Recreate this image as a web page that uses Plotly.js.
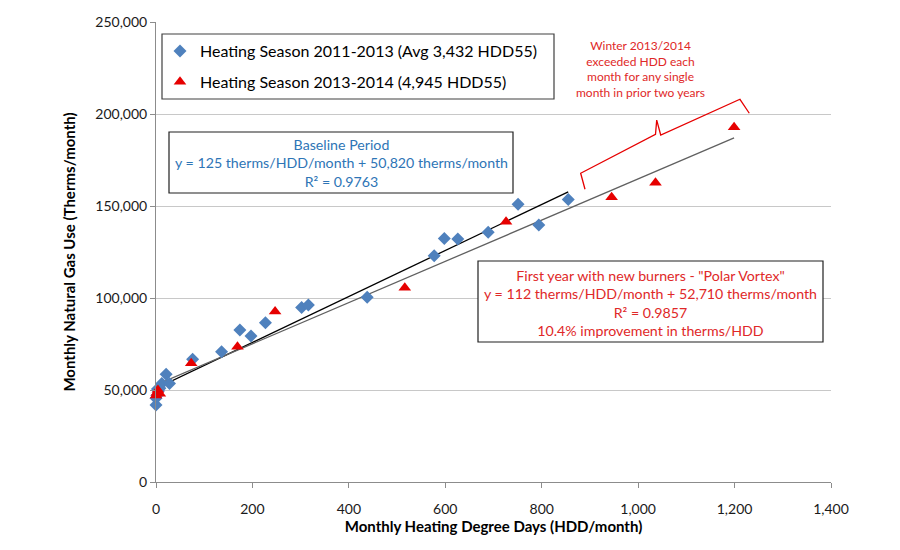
<!DOCTYPE html>
<html>
<head>
<meta charset="utf-8">
<script src="https://cdn.plot.ly/plotly-3.0.1.min.js"></script>
<style>html,body{margin:0;padding:0;background:#fff;}#chart{width:900px;height:550px;}</style>
</head>
<body>
<div id="chart"></div>
<script>
// Heating Season 2011-2013 (monthly HDD, therms/month)
const hdd2011 = [0, 0, 2, 3, 5, 8, 12, 21, 28, 76, 136, 174, 197, 227, 302, 316, 438, 577, 598, 626, 689, 751, 794, 855];
const gas2011 = [41800, 45500, 47000, 50500, 49500, 51000, 53600, 58500, 53600, 66700, 70800, 82600, 79300, 86600, 94900, 96200, 100400, 123000, 132400, 132100, 135700, 150900, 139700, 153600];
// Heating Season 2013-2014
const hdd2013 = [0, 2, 4, 8, 73, 169, 247, 516, 726, 945, 1036, 1199];
const gas2013 = [47000, 48500, 50000, 48000, 64500, 73500, 92600, 105600, 141500, 154700, 162700, 192800];
// Trend lines (from fitted equations shown in the chart)
const baseTrendX = [0, 855];
const baseTrendY = [50820, 157695];
const newTrendX = [0, 1199];
const newTrendY = [52710, 187000];
const xTicks = [0, 200, 400, 600, 800, 1000, 1200, 1400];
const xTickText = ['0', '200', '400', '600', '800', '1,000', '1,200', '1,400'];
const yTicks = [0, 50000, 100000, 150000, 200000, 250000];
const yTickText = ['0', '50,000', '100,000', '150,000', '200,000', '250,000'];

const FONT = 'Lato, "Open Sans", sans-serif';
const BLUE = '#4F81BD';
const RED = '#E60000';
const TXTRED = '#E02828';
const TXTBLUE = '#2E75B6';

const traces = [
  {x: baseTrendX, y: baseTrendY, mode: 'lines', line: {color: '#000000', width: 1.3}, showlegend: false, hoverinfo: 'skip'},
  {x: newTrendX, y: newTrendY, mode: 'lines', line: {color: '#606060', width: 1.3}, showlegend: false, hoverinfo: 'skip'},
  {x: hdd2011, y: gas2011, mode: 'markers', name: 'Heating Season 2011-2013 (Avg 3,432 HDD55)', legendgroup: 'a',
   marker: {symbol: 'diamond', size: 10, color: BLUE}, cliponaxis: false},
  {x: hdd2013, y: gas2013, mode: 'markers', name: 'Heating Season 2013-2014 (4,945 HDD55)', legendgroup: 'b',
   marker: {symbol: 'triangle-up', size: 11, color: RED}, cliponaxis: false}
];

const L = 156, T = 22, W = 675, H = 460;
function px(p) { return (p - L) / W; }
function py(p) { return (T + H - p) / H; }

const layout = {
  width: 900, height: 550,
  margin: {l: L, r: 900 - L - W, t: T, b: 550 - T - H},
  paper_bgcolor: '#ffffff', plot_bgcolor: '#ffffff',
  font: {family: FONT, color: '#1a1a1a', size: 14},
  xaxis: {
    range: [0, 1400], tickvals: xTicks, ticktext: xTickText,
    showgrid: false, zeroline: false, showline: true, linecolor: '#8C8C8C', linewidth: 1,
    ticks: 'outside', ticklen: 5, tickcolor: '#8C8C8C', ticklabelstandoff: 9,
    tickfont: {family: FONT, size: 14, color: '#1a1a1a'},
    title: {text: 'Monthly Heating Degree Days (HDD/month)', font: {family: FONT, size: 15, color: '#000', weight: 'bold'}, standoff: 3}
  },
  yaxis: {
    range: [0, 250000], tickvals: yTicks, ticktext: yTickText,
    showgrid: true, gridcolor: '#C8C8C8', gridwidth: 1, zeroline: false,
    showline: true, linecolor: '#8C8C8C', linewidth: 1,
    ticks: 'outside', ticklen: 5, tickcolor: '#8C8C8C',
    tickfont: {family: FONT, size: 14, color: '#1a1a1a'},
    title: {text: 'Monthly Natural Gas Use (Therms/month)', font: {family: FONT, size: 15, color: '#000', weight: 'bold'}, standoff: 16}
  },
  legend: {
    x: px(160), y: py(34), xanchor: 'left', yanchor: 'top',
    bgcolor: 'rgba(0,0,0,0)', borderwidth: 0,
    font: {family: FONT, size: 16, color: '#000'},
    traceorder: 'grouped', tracegroupgap: 7, itemwidth: 30
  },
  shapes: [
    {type: 'rect', xref: 'paper', yref: 'paper', x0: px(162), x1: px(554), y0: py(99), y1: py(34),
     line: {color: '#404040', width: 1.2}, fillcolor: '#ffffff', layer: 'below'},
    {type: 'rect', xref: 'paper', yref: 'paper', x0: px(169), x1: px(513), y0: py(193), y1: py(132),
     line: {color: '#202020', width: 1.2}, fillcolor: '#ffffff', layer: 'above'},
    {type: 'rect', xref: 'paper', yref: 'paper', x0: px(478), x1: px(823), y0: py(342), y1: py(261),
     line: {color: '#202020', width: 1.2}, fillcolor: '#ffffff', layer: 'above'},
    {type: 'path', xref: 'x', yref: 'y',
     path: 'M 889.8 159100 L 880.8 167800 L 1036 189000 L 1038.5 196700 L 1046.8 188600 L 1211.2 208000 L 1230.5 200400',
     line: {color: RED, width: 1.3}}
  ],
  annotations: [
    {xref: 'paper', yref: 'paper', x: px(341), y: py(163), xanchor: 'center', yanchor: 'middle', showarrow: false,
     text: 'Baseline Period<br>y = 125 therms/HDD/month + 50,820 therms/month<br>R² = 0.9763',
     font: {family: FONT, size: 14.2, color: TXTBLUE}},
    {xref: 'paper', yref: 'paper', x: px(650.5), y: py(302.5), xanchor: 'center', yanchor: 'middle', showarrow: false,
     text: 'First year with new burners - "Polar Vortex"<br>y = 112 therms/HDD/month + 52,710 therms/month<br>R² = 0.9857<br>10.4% improvement in therms/HDD',
     font: {family: FONT, size: 14.2, color: TXTRED}},
    {xref: 'paper', yref: 'paper', x: px(640), y: py(69), xanchor: 'center', yanchor: 'middle', showarrow: false,
     text: 'Winter 2013/2014<br>exceeded HDD each<br>month for any single<br>month in prior two years',
     font: {family: FONT, size: 12, color: TXTRED}}
  ]
};

Plotly.newPlot('chart', traces, layout, {displayModeBar: false, staticPlot: true});
</script>
</body>
</html>
